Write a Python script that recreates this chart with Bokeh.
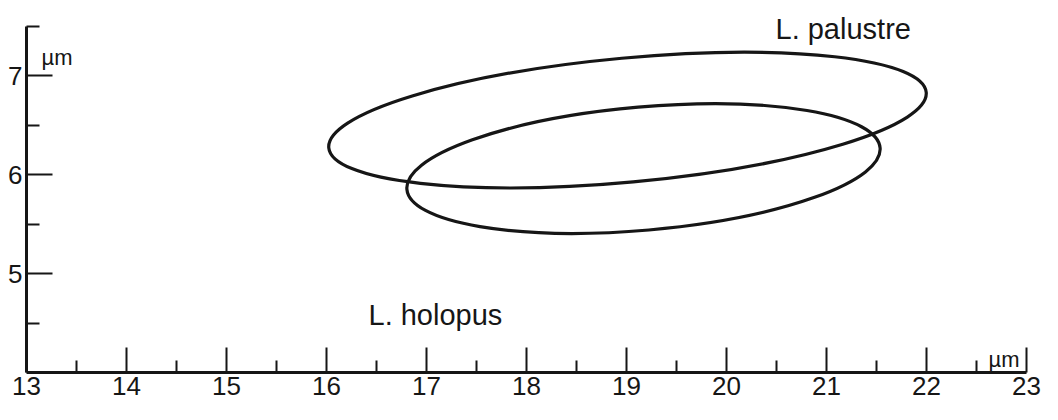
from bokeh.plotting import figure
from bokeh.models import Range1d, FixedTicker, Label
from bokeh.embed import file_html
from bokeh.resources import INLINE

# ---- data ----
species = ["L. palustre", "L. holopus"]
center_x = [19.01, 19.17]          # µm (length)
center_y = [6.55, 6.06]            # µm (width)
ell_width = [6.00, 4.75]           # full axis along length
ell_height = [1.254, 1.245]        # full axis across
ell_angle = [5.3, 5.0]             # degrees

label_x = [20.49, 16.42]
label_y = [7.47, 4.58]

x_major = [13, 14, 15, 16, 17, 18, 19, 20, 21, 22, 23]
x_minor = [13.5, 14.5, 15.5, 16.5, 17.5, 18.5, 19.5, 20.5, 21.5, 22.5]
y_major = [5, 6, 7]
y_minor = [4.5, 5.5, 6.5, 7.5]

INK = "#161616"
FONT = "Liberation Sans"

p = figure(width=1042, height=404, output_backend="svg", toolbar_location=None,
           x_range=Range1d(13, 23.16), y_range=Range1d(4, 7.758),
           min_border_left=26, min_border_right=0, min_border_top=0, min_border_bottom=32)
p.outline_line_color = None
p.grid.visible = False
p.background_fill_color = "white"
p.border_fill_color = "white"

p.xaxis.ticker = FixedTicker(ticks=x_major, minor_ticks=x_minor)
p.yaxis.ticker = FixedTicker(ticks=y_major, minor_ticks=y_minor)
p.xaxis.bounds = (13, 23)
p.yaxis.bounds = (4, 7.5)

for ax, mj, mn in ((p.xaxis, 25, 12), (p.yaxis, 26, 13)):
    ax.axis_line_width = 3
    ax.axis_line_color = INK
    ax.major_tick_in = mj
    ax.major_tick_out = 0
    ax.minor_tick_in = mn
    ax.minor_tick_out = 0
    ax.major_tick_line_width = 2
    ax.minor_tick_line_width = 2
    ax.major_tick_line_color = INK
    ax.minor_tick_line_color = INK
    ax.major_label_text_font = FONT
    ax.major_label_text_font_size = "26px"
    ax.major_label_text_color = INK
    ax.major_label_standoff = 4

p.ellipse(x=center_x, y=center_y, width=ell_width, height=ell_height,
          angle=ell_angle, angle_units="deg",
          fill_alpha=0, line_color=INK, line_width=3.2)

for name, lx, ly in zip(species, label_x, label_y):
    p.add_layout(Label(x=lx, y=ly, text=name, text_font=FONT, text_font_size="29px",
                       text_color=INK, text_baseline="alphabetic", text_align="left"))

# unit labels
p.add_layout(Label(x=13.15, y=7.18, text="µm", text_font=FONT, text_font_size="22px",
                   text_color=INK, text_baseline="alphabetic"))
p.add_layout(Label(x=22.62, y=4.13, text="µm", text_font=FONT, text_font_size="22px",
                   text_color=INK, text_baseline="alphabetic"))

open("out.html", "w").write(file_html(p, INLINE))
